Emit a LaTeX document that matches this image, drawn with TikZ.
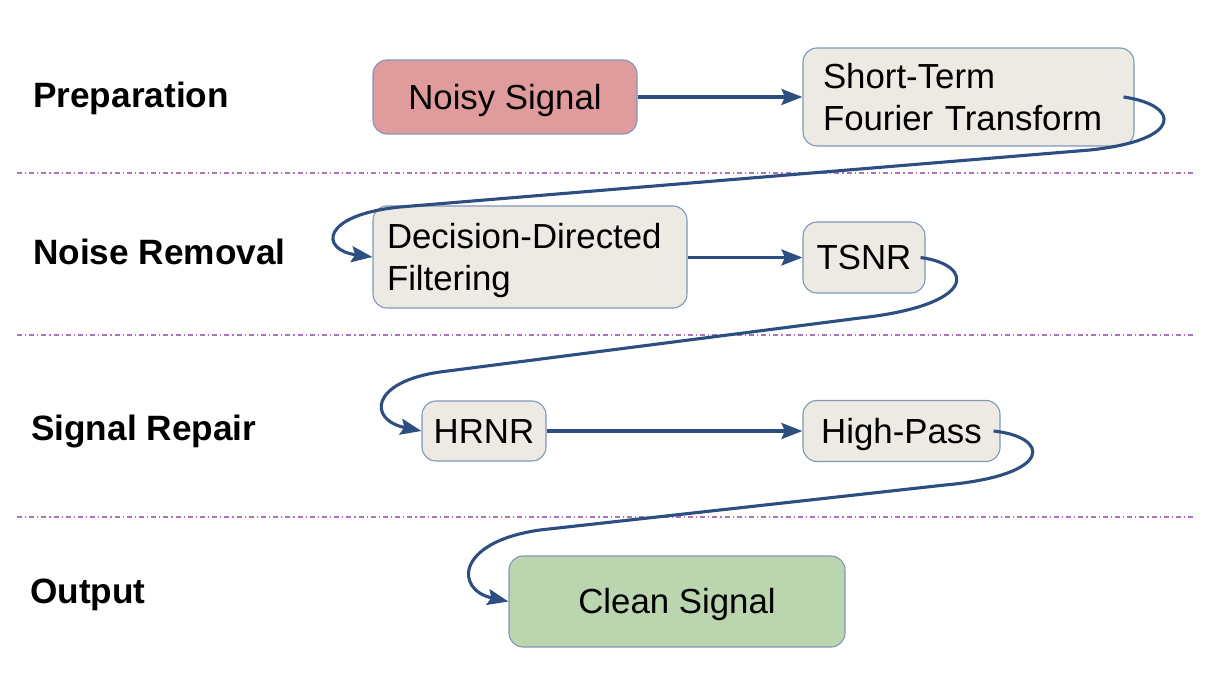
\documentclass[tikz,border=0pt]{standalone}
\usepackage{fontspec}
\setmainfont{Liberation Sans}
\usetikzlibrary{arrows.meta,calc}
\definecolor{edgeblue}{HTML}{2C4E80}
\definecolor{boxborder}{HTML}{8097B8}
\definecolor{boxfill}{HTML}{ECEAE2}
\definecolor{redfill}{HTML}{E09C9C}
\definecolor{greenfill}{HTML}{BBD6AE}
\definecolor{sep}{HTML}{A974BB}
\tikzset{
  stage/.style={anchor=base west, font=\fontsize{35.2}{42}\selectfont\bfseries, inner sep=0pt},
  proc/.style={draw=boxborder, line width=1.1pt, fill=boxfill, rounded corners=14pt,
    inner sep=0pt, font=\fontsize{34.8}{42}\selectfont, text height=24.9pt, text depth=0pt},
  twoline/.style={align=left, text height=24.9pt, text depth=42pt},
  flow/.style={draw=edgeblue, line width=3.1pt, -{Stealth[length=21pt,width=16pt,inset=3.5pt]}},
  sepline/.style={draw=sep, line width=1.1pt, dash pattern=on 5pt off 3pt on 1.2pt off 3pt}
}
\begin{document}
\begin{tikzpicture}[x=1pt,y=-1pt]
\useasboundingbox (0,0) rectangle (1208,676);
% separators
\draw[sepline] (17,173) -- (1195,173);
\draw[sepline] (17,335) -- (1195,335);
\draw[sepline] (17,517) -- (1195,517);
% stage labels
\node[stage] (lprep) at (33,107.5) {Preparation};
\node[stage] (lnoise) at (33,265) {Noise Removal};
\node[stage] (lrepair) at (31,440) {Signal Repair};
\node[stage] (lout) at (30,603) {Output};
% process nodes
\node[proc, fill=redfill, minimum width=264pt, minimum height=74pt] (noisy) at (505,97) {Noisy Signal};
\node[proc, twoline, inner xsep=20pt, text width=291pt, minimum height=98pt] (stft) at (968.5,97) {Short-Term\\Fourier Transform};
\node[proc, twoline, inner xsep=14pt, text width=286pt, minimum height=102pt] (ddf) at (530,257) {Decision-Directed\\Filtering};
\node[proc, minimum width=122pt, minimum height=71pt] (tsnr) at (864,257.5) {TSNR};
\node[proc, minimum width=124pt, minimum height=60pt] (hrnr) at (484,431) {HRNR};
\node[proc, minimum width=197pt, minimum height=61pt] (hp) at (901.5,431) {High-Pass};
\node[proc, fill=greenfill, minimum width=336pt, minimum height=91pt] (clean) at (677,601.5) {Clean Signal};
% connectors
\draw[flow] (noisy.east) -- (stft.west |- noisy.east);
\draw[flow] ($(stft.east)+(-11,0)$) .. controls (1180,105) and (1185,140) .. (1090,150)
  -- (400,207) .. controls (320,215) and (320,250) .. (ddf.west);
\draw[flow] (ddf.east |- tsnr.west) -- (tsnr.west);
\draw[flow] ($(tsnr.east)+(-5,0)$) .. controls (975,265) and (978,305) .. (860,318)
  -- (440,372) .. controls (370,382) and (368,420) .. (hrnr.west);
\draw[flow] (hrnr.east) -- (hp.west);
\draw[flow] ($(hp.east)+(-7,0)$) .. controls (1050,437) and (1055,475) .. (945,485)
  -- (540,530) .. controls (455,542) and (455,590) .. (clean.west);
\end{tikzpicture}
\end{document}
